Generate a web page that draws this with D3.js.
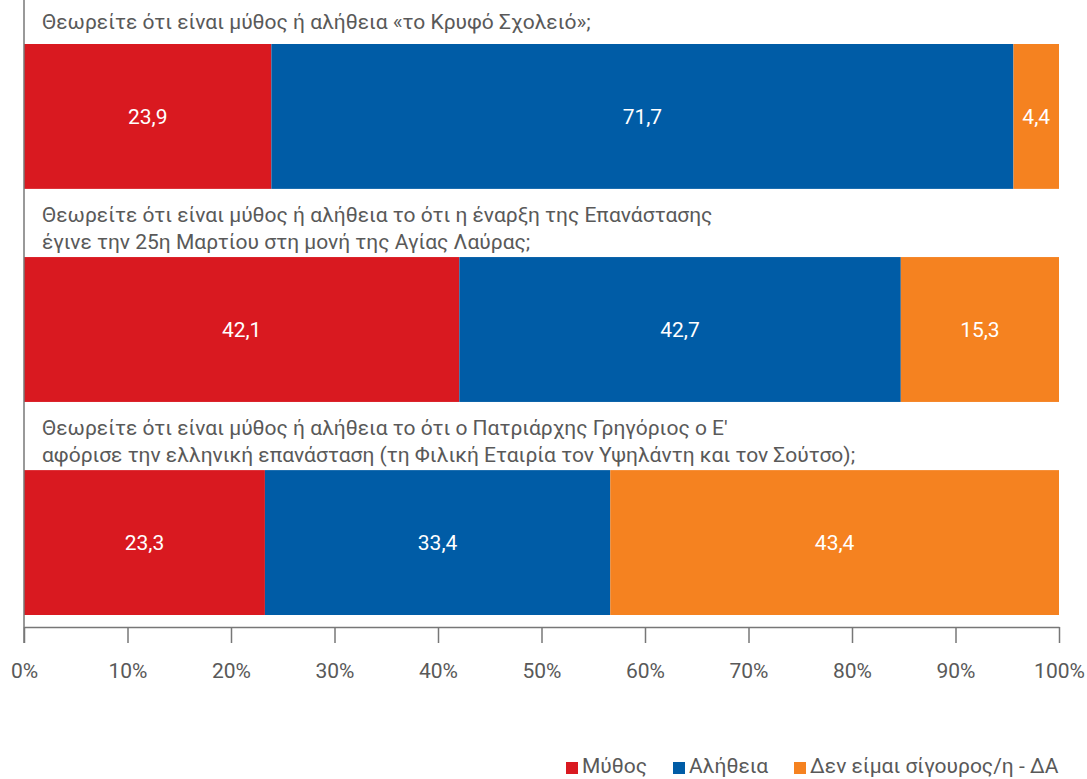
<!DOCTYPE html>
<html>
<head>
<meta charset="utf-8">
<script src="https://cdn.jsdelivr.net/npm/d3@7"></script>
<style>
  body { margin: 0; background: #fff; }
  text { font-family: Roboto, "Noto Sans", sans-serif; }
</style>
</head>
<body>
<div id="chart"></div>
<script>
const width = 1087;
const height = 779;

const questions = [
  ["Θεωρείτε ότι είναι μύθος ή αλήθεια «το Κρυφό Σχολειό»;"],
  ["Θεωρείτε ότι είναι μύθος ή αλήθεια το ότι η έναρξη της Επανάστασης",
   "έγινε την 25η Μαρτίου στη μονή της Αγίας Λαύρας;"],
  ["Θεωρείτε ότι είναι μύθος ή αλήθεια το ότι ο Πατριάρχης Γρηγόριος ο Ε'",
   "αφόρισε την ελληνική επανάσταση (τη Φιλική Εταιρία τον Υψηλάντη και τον Σούτσο);"]
];
const seriesNames = ["Μύθος", "Αλήθεια", "Δεν είμαι σίγουρος/η - ΔΑ"];
const mythValues = [23.9, 42.1, 23.3];
const truthValues = [71.7, 42.7, 33.4];
const unsureValues = [4.4, 15.3, 43.4];
const tickValues = [0, 10, 20, 30, 40, 50, 60, 70, 80, 90, 100];

const colors = ["#d91920", "#005ca6", "#f58220"];
const textColor = "#595959";
const fontSize = 21;

const rows = questions.map((q, i) => {
  const vals = [mythValues[i], truthValues[i], unsureValues[i]];
  const total = d3.sum(vals);
  let acc = 0;
  const segs = vals.map((v, k) => {
    const s = { key: k, value: v, x0: acc / total * 100, x1: (acc + v) / total * 100 };
    acc += v;
    return s;
  });
  return { id: i, lines: q, segs };
});

const svg = d3.select("#chart")
  .append("svg")
  .attr("width", width)
  .attr("height", height);

const x = d3.scaleLinear().domain([0, 100]).range([24, 1059]);
const y = d3.scaleBand()
  .domain(rows.map(d => d.id))
  .range([44, 615])
  .paddingInner(0.32)
  .paddingOuter(0);

const axisY = 627;

// bars
const row = svg.append("g")
  .selectAll("g")
  .data(rows)
  .join("g");

row.selectAll("rect")
  .data(d => d.segs)
  .join("rect")
  .attr("x", d => x(d.x0))
  .attr("width", d => x(d.x1) - x(d.x0))
  .attr("y", function() { return y(d3.select(this.parentNode).datum().id); })
  .attr("height", y.bandwidth())
  .attr("fill", d => colors[d.key]);

row.selectAll("text.val")
  .data(d => d.segs)
  .join("text")
  .attr("class", "val")
  .attr("x", d => (x(d.x0) + x(d.x1)) / 2)
  .attr("y", function() { return y(d3.select(this.parentNode).datum().id) + y.bandwidth() / 2; })
  .attr("dy", "0.35em")
  .attr("text-anchor", "middle")
  .attr("fill", "#fff")
  .attr("font-size", fontSize)
  .text(d => d.value.toFixed(1).replace(".", ","));

// question titles, centred in the gap above each bar
function titleCenter(d) {
  const top = d.id === 0 ? 0 : y(d.id) - y.step() + y.bandwidth();
  return (top + y(d.id)) / 2 + (d.lines.length - 1) * 5.5;
}

row.append("text")
  .attr("font-size", fontSize)
  .attr("fill", textColor)
  .selectAll("tspan")
  .data(d => d.lines.map((l, j) => ({ l, j, c: titleCenter(d), n: d.lines.length })))
  .join("tspan")
  .attr("x", 42)
  .attr("y", d => d.c + (d.j - (d.n - 1) / 2) * 27)
  .attr("dy", "0.35em")
  .text(d => d.l);

// axes
svg.append("line")
  .attr("x1", x(0)).attr("x2", x(0))
  .attr("y1", 0).attr("y2", axisY + 16)
  .attr("stroke", "#777").attr("stroke-width", 1.5);

const xAxis = d3.axisBottom(x)
  .tickValues(tickValues)
  .tickFormat(d => d + "%")
  .tickSizeInner(16)
  .tickSizeOuter(0)
  .tickPadding(20);

const ax = svg.append("g")
  .attr("transform", `translate(0,${axisY})`)
  .call(xAxis);
ax.select(".domain").attr("stroke", "#777").attr("stroke-width", 1.5);
ax.selectAll(".tick line").attr("stroke", "#777").attr("stroke-width", 1.5);
ax.selectAll(".tick text")
  .attr("fill", textColor)
  .attr("font-size", fontSize)
  .attr("font-family", "Roboto, sans-serif");

// legend
const legendX = [566, 673, 794];
const legend = svg.append("g")
  .selectAll("g")
  .data(seriesNames)
  .join("g")
  .attr("transform", (d, i) => `translate(${legendX[i]},766)`);
legend.append("rect")
  .attr("x", 0).attr("y", -4)
  .attr("width", 12).attr("height", 12)
  .attr("fill", (d, i) => colors[i]);
legend.append("text")
  .attr("x", 16)
  .attr("dy", "0.35em")
  .attr("font-size", fontSize)
  .attr("fill", textColor)
  .text(d => d);
</script>
</body>
</html>
